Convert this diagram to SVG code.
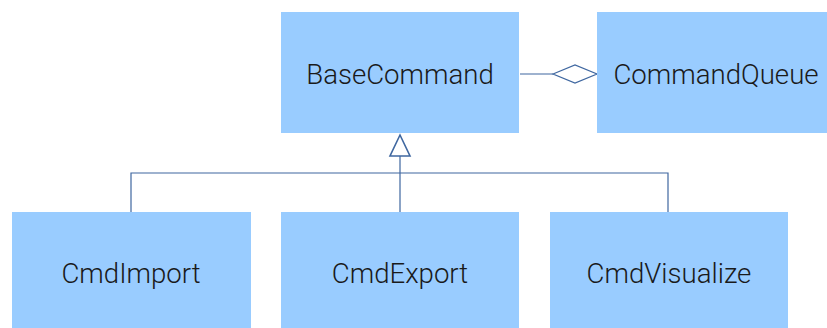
<svg xmlns="http://www.w3.org/2000/svg" width="827" height="328" viewBox="0 0 827 328">
<style>
.box{fill:#99ccff;}
.lbl{font-family:Roboto,"Liberation Sans",sans-serif;font-weight:300;font-size:27.6px;fill:#1a1a1a;text-anchor:middle;}
.ln{fill:none;stroke:#3f67a0;stroke-width:1.2;}
</style>
<rect width="827" height="328" fill="#ffffff"/>
<g id="connectors">
<path class="ln" d="M520 74 H553"/>
<path class="ln" d="M553 74 L575 65 L597 74 L575 83 Z" style="fill:#ffffff"/>
<path class="ln" d="M131 212 V173 H668 V212 M400 212 V156"/>
<path class="ln" d="M400 135 L410 156 L390 156 Z" style="fill:#ffffff;stroke-width:1.6"/>
</g>
<g id="BaseCommand"><rect class="box" x="281" y="12" width="238" height="121"/><text class="lbl" x="400" y="84">BaseCommand</text></g>
<g id="CommandQueue"><rect class="box" x="597" y="12" width="238" height="121"/><text class="lbl" x="716" y="84">CommandQueue</text></g>
<g id="CmdImport"><rect class="box" x="12" y="212" width="239" height="120"/><text class="lbl" x="131" y="283">CmdImport</text></g>
<g id="CmdExport"><rect class="box" x="281" y="212" width="238" height="120"/><text class="lbl" x="400" y="283">CmdExport</text></g>
<g id="CmdVisualize"><rect class="box" x="550" y="212" width="238" height="120"/><text class="lbl" x="669" y="283">CmdVisualize</text></g>
</svg>
